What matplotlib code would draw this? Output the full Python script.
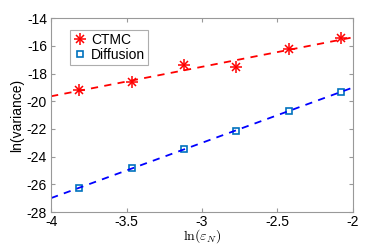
import numpy as np
import matplotlib
matplotlib.use("Agg")
import matplotlib.pyplot as plt
from matplotlib.legend_handler import HandlerTuple

plt.rcParams["font.family"] = ["Liberation Sans", "DejaVu Sans"]
plt.rcParams["mathtext.fontset"] = "cm"

# data
ln_eps = [-3.812, -3.466, -3.119, -2.773, -2.426, -2.079]
ctmc = [-19.2, -18.6, -17.4, -17.55, -16.2, -15.45]
diffusion = [-26.24, -24.85, -23.47, -22.13, -20.71, -19.31]
xticks = [-4, -3.5, -3, -2.5, -2]
yticks = [-28, -26, -24, -22, -20, -18, -16, -14]

fig = plt.figure(figsize=(3.9, 2.48), dpi=100)
ax = fig.add_axes([0.131, 0.145, 0.774, 0.782])

xx = np.array([-4, -2])
pc = np.polyfit(ln_eps, ctmc, 1)
pd_ = np.polyfit(ln_eps, diffusion, 1)

# MATLAB-style asterisk: plus + cross
h1, = ax.plot(ln_eps, ctmc, '+', color='red', markersize=8, markeredgewidth=1.1)
h2, = ax.plot(ln_eps, ctmc, 'x', color='red', markersize=6, markeredgewidth=1.1)
h3, = ax.plot(ln_eps, diffusion, 's', color='#0072BD', markerfacecolor='none',
              markersize=5, markeredgewidth=1.2)
ax.plot(xx, np.polyval(pc, xx), '--', color='red', lw=1.3, dashes=(4, 3.5))
ax.plot(xx, np.polyval(pd_, xx), '--', color='blue', lw=1.3, dashes=(4, 3.5))

ax.set_xlim(-4, -2)
ax.set_ylim(-28, -14)
ax.set_xticks(xticks)
ax.set_yticks(yticks)
ax.set_xticklabels([str(t) for t in xticks])
ax.set_yticklabels([str(t) for t in yticks])
ax.tick_params(direction='in', top=True, right=True, labelsize=10, length=3,
               color='#999999')
ax.tick_params(axis='x', pad=2)
ax.tick_params(axis='y', pad=3)
for s in ax.spines.values():
    s.set_color('#999999')
    s.set_linewidth(0.8)

ax.set_ylabel('ln(variance)', fontsize=10, labelpad=2)
ax.set_xlabel(r'$\ln(\varepsilon_N)$', fontsize=10, labelpad=-1)

leg = ax.legend([(h1, h2), h3], ['CTMC', 'Diffusion'],
                handler_map={tuple: HandlerTuple(ndivide=1)},
                loc='upper left', bbox_to_anchor=(0.063, 0.94), fontsize=10,
                frameon=True, fancybox=False, handlelength=1.0, handletextpad=0.3,
                borderpad=0.2, labelspacing=0.1, borderaxespad=0)
leg.get_frame().set_edgecolor('#999999')
leg.get_frame().set_linewidth(0.8)

fig.savefig('out.png', dpi=100)
